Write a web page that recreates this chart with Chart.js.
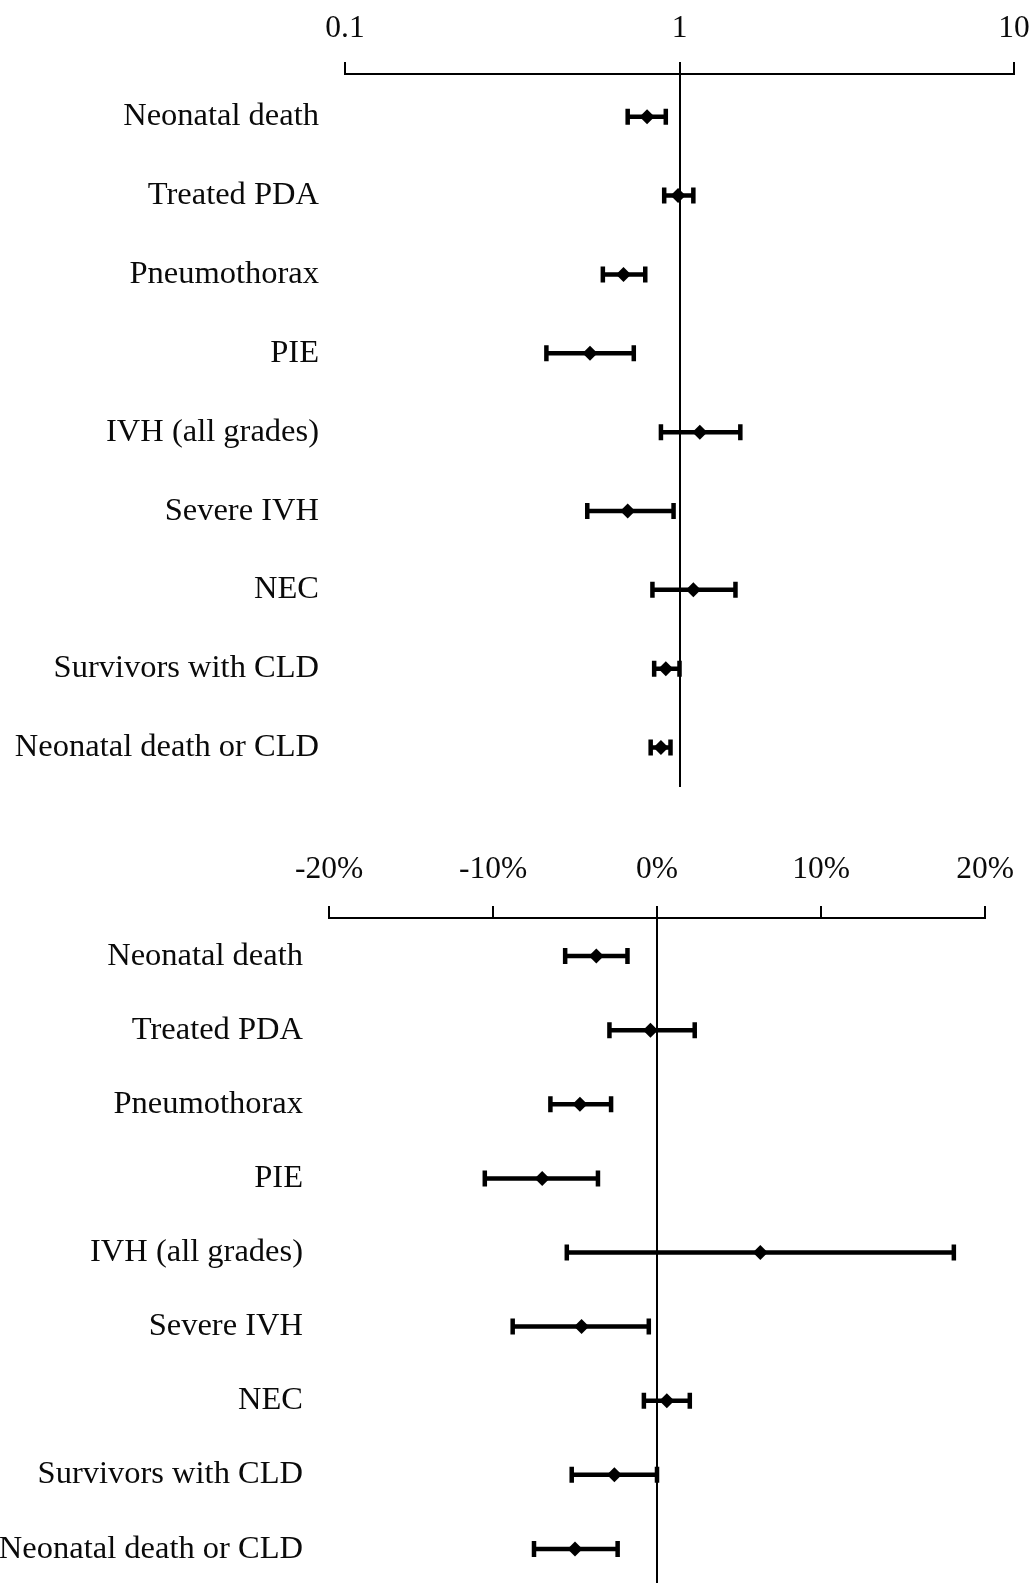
<!DOCTYPE html>
<html>
<head>
<meta charset="utf-8">
<script src="https://cdn.jsdelivr.net/npm/chart.js@4"></script>
<style>
body { margin: 0; background: #fff; }
canvas { display: block; }
</style>
</head>
<body>
<canvas id="ratioChart" width="1035" height="800"></canvas>
<canvas id="diffChart" width="1035" height="783"></canvas>
<script>
var outcomes = [
    "Neonatal death",
    "Treated PDA",
    "Pneumothorax",
    "PIE",
    "IVH (all grades)",
    "Severe IVH",
    "NEC",
    "Survivors with CLD",
    "Neonatal death or CLD"
];

// relative risk, log scale
var rrEstimate = [0.80, 0.99, 0.68, 0.54, 1.15, 0.70, 1.10, 0.91, 0.88];
var rrLower = [0.70, 0.90, 0.59, 0.40, 0.88, 0.53, 0.83, 0.84, 0.82];
var rrUpper = [0.91, 1.10, 0.79, 0.73, 1.52, 0.96, 1.47, 1.00, 0.94];
var rrTicks = [0.1, 1, 10];

// risk difference, percent
var rdEstimate = [-3.7, -0.4, -4.7, -7.0, 6.3, -4.6, 0.6, -2.6, -5.0];
var rdLower = [-5.6, -2.9, -6.5, -10.5, -5.5, -8.8, -0.8, -5.2, -7.5];
var rdUpper = [-1.8, 2.3, -2.8, -3.6, 18.1, -0.5, 2.0, 0.0, -2.4];
var rdTicks = [-20, -10, 0, 10, 20];

var serif = "'Liberation Serif', 'Times New Roman', serif";

// draws the line of no effect and the CI whiskers
var forestPlugin = {
    id: "forest",
    beforeDatasetsDraw: function (chart) {
        var opts = chart.options.plugins.forest;
        var ctx = chart.ctx;
        var xs = chart.scales.x, ys = chart.scales.y, area = chart.chartArea;
        ctx.save();
        ctx.strokeStyle = "#000";
        var x0 = Math.round(xs.getPixelForValue(opts.nullValue));
        ctx.lineWidth = 2;
        ctx.beginPath();
        ctx.moveTo(x0, area.top);
        ctx.lineTo(x0, area.bottom);
        ctx.stroke();
        ctx.lineWidth = 4.5;
        opts.lower.forEach(function (lo, i) {
            var yy = ys.getPixelForValue(i);
            var xl = xs.getPixelForValue(lo);
            var xr = xs.getPixelForValue(opts.upper[i]);
            ctx.beginPath();
            ctx.moveTo(xl, yy);
            ctx.lineTo(xr, yy);
            ctx.moveTo(xl, yy - 8);
            ctx.lineTo(xl, yy + 8);
            ctx.moveTo(xr, yy - 8);
            ctx.lineTo(xr, yy + 8);
            ctx.stroke();
        });
        ctx.restore();
    }
};

function makeConfig(s) {
    return {
        type: "scatter",
        data: {
            datasets: [{
                data: s.estimate.map(function (v, i) { return { x: v, y: i }; }),
                pointStyle: "rectRot",
                pointRadius: 7.5,
                pointHoverRadius: 7.5,
                backgroundColor: "#000",
                borderWidth: 0
            }]
        },
        options: {
            responsive: false,
            animation: false,
            events: [],
            layout: { autoPadding: false, padding: s.padding },
            plugins: {
                legend: { display: false },
                tooltip: { enabled: false },
                forest: { lower: s.lower, upper: s.upper, nullValue: s.nullValue }
            },
            scales: {
                x: {
                    type: s.xType,
                    position: "top",
                    min: s.ticks[0],
                    max: s.ticks[s.ticks.length - 1],
                    afterBuildTicks: function (scale) {
                        scale.ticks = s.ticks.map(function (v) { return { value: v }; });
                    },
                    afterFit: function (scale) {
                        scale.height = s.axisHeight;
                        scale.paddingLeft = 0;
                        scale.paddingRight = 0;
                    },
                    border: { display: true, color: "#000", width: 2 },
                    grid: {
                        drawOnChartArea: false,
                        drawTicks: true,
                        tickLength: 12,
                        color: "#000",
                        lineWidth: 2
                    },
                    ticks: {
                        color: "#0a0a0a",
                        padding: s.tickPad,
                        maxRotation: 0,
                        autoSkip: false,
                        font: { family: serif, size: 31.5 },
                        callback: s.tickFormat
                    }
                },
                y: {
                    type: "linear",
                    reverse: true,
                    min: s.yMin,
                    max: s.yMax,
                    afterBuildTicks: function (scale) {
                        scale.ticks = outcomes.map(function (_, i) { return { value: i }; });
                    },
                    afterFit: function (scale) {
                        scale.width = s.axisWidth;
                        scale.paddingTop = 0;
                        scale.paddingBottom = 0;
                    },
                    border: { display: false },
                    grid: { display: false, drawTicks: false },
                    ticks: {
                        color: "#0a0a0a",
                        padding: 26,
                        autoSkip: false,
                        font: { family: serif, size: 32.5 },
                        callback: function (v) { return outcomes[v]; }
                    }
                }
            }
        },
        plugins: [forestPlugin]
    };
}

window.onload = function () {
    new Chart(document.getElementById("ratioChart").getContext("2d"), makeConfig({
        xType: "logarithmic",
        estimate: rrEstimate, lower: rrLower, upper: rrUpper,
        ticks: rrTicks, nullValue: 1,
        tickFormat: function (v) { return String(v); },
        axisHeight: 74, axisWidth: 345, tickPad: 14,
        yMin: -0.542, yMax: 8.5,
        padding: { top: 0, left: 0, right: 21, bottom: 13 }
    }));
    new Chart(document.getElementById("diffChart").getContext("2d"), makeConfig({
        xType: "linear",
        estimate: rdEstimate, lower: rdLower, upper: rdUpper,
        ticks: rdTicks, nullValue: 0,
        tickFormat: function (v) { return v + "%"; },
        axisHeight: 118, axisWidth: 329, tickPad: 17,
        yMin: -0.513, yMax: 8.459,
        padding: { top: 0, left: 0, right: 50, bottom: 0 }
    }));
};
</script>
</body>
</html>
